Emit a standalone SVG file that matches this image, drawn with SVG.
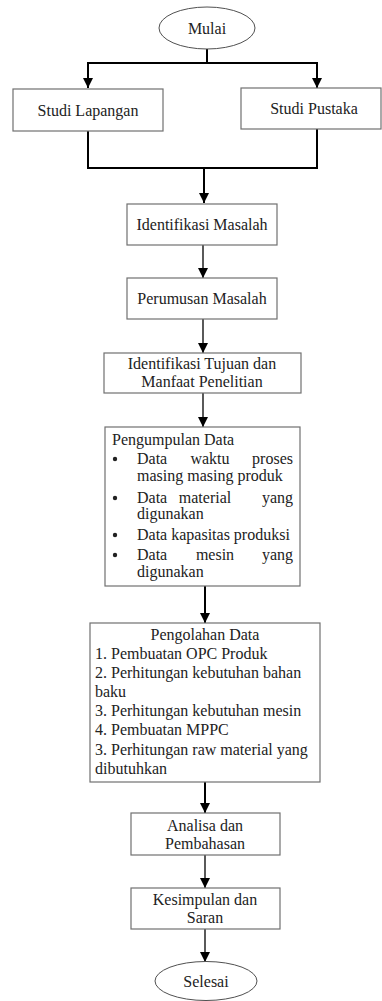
<svg xmlns="http://www.w3.org/2000/svg" width="382" height="1001" viewBox="0 0 382 1001">
  <style>
    .box { fill: #ffffff; stroke: #707070; stroke-width: 1.2; }
    .term { fill: #ffffff; stroke: #505050; stroke-width: 1; }
    .wire { fill: none; stroke: #000000; stroke-width: 2; }
    .thin { fill: none; stroke: #000000; stroke-width: 1.3; }
    text { font-family: "Liberation Serif", "Times New Roman", serif; font-size: 16px; fill: #222222; }
    .c { text-anchor: middle; }
    .e { text-anchor: end; }
  </style>
  <defs>
    <marker id="arrow" viewBox="0 0 10 10" refX="10" refY="5" markerWidth="10" markerHeight="10" markerUnits="userSpaceOnUse" orient="auto">
      <path d="M0,0 L10,5 L0,10 Z" fill="#000000"/>
    </marker>
  </defs>
  <rect width="382" height="1001" fill="#ffffff"/>

  <g id="connectors">
    <!-- split from start -->
    <path class="wire" d="M207,49 V63"/>
    <path class="wire" d="M88,63 H317"/>
    <path class="wire" d="M88,62 V88" marker-end="url(#arrow)"/>
    <path class="wire" d="M317,62 V88" marker-end="url(#arrow)"/>
    <!-- merge -->
    <path class="wire" d="M88,131 V168 H317 V129"/>
    <path class="wire" d="M204,168 V203" marker-end="url(#arrow)"/>
    <path class="thin" d="M203,245 V278" marker-end="url(#arrow)"/>
    <path class="thin" d="M203,319 V353" marker-end="url(#arrow)"/>
    <path class="thin" d="M203,393 V427" marker-end="url(#arrow)"/>
    <path class="wire" d="M205,586 V623" marker-end="url(#arrow)"/>
    <path class="wire" d="M205,782 V813" marker-end="url(#arrow)"/>
    <path class="thin" d="M205,855 V888" marker-end="url(#arrow)"/>
    <path class="thin" d="M205,929 V962" marker-end="url(#arrow)"/>
  </g>

  <g id="mulai">
    <ellipse class="term" cx="207" cy="28" rx="48" ry="21"/>
    <text class="c" x="207" y="34">Mulai</text>
  </g>

  <g id="studi-lapangan">
    <rect class="box" x="13" y="89" width="150" height="42"/>
    <text class="c" x="88" y="116">Studi Lapangan</text>
  </g>

  <g id="studi-pustaka">
    <rect class="box" x="241" y="88" width="140" height="41"/>
    <text class="c" x="314" y="114">Studi Pustaka</text>
  </g>

  <g id="identifikasi-masalah">
    <rect class="box" x="127" y="204" width="150" height="41"/>
    <text class="c" x="202" y="230">Identifikasi Masalah</text>
  </g>

  <g id="perumusan-masalah">
    <rect class="box" x="127" y="278" width="150" height="41"/>
    <text class="c" x="202" y="304">Perumusan Masalah</text>
  </g>

  <g id="tujuan-manfaat">
    <rect class="box" x="104" y="353" width="197" height="40"/>
    <text class="c" x="202" y="369">Identifikasi Tujuan dan</text>
    <text class="c" x="202" y="387">Manfaat Penelitian</text>
  </g>

  <g id="pengumpulan-data">
    <rect class="box" x="105" y="427" width="195" height="159"/>
    <text x="112" y="445">Pengumpulan Data</text>
    <circle cx="115" cy="459" r="2.2" fill="#222222"/>
    <text x="137" y="464">Data</text>
    <text class="c" x="210" y="464">waktu</text>
    <text class="e" x="293" y="464">proses</text>
    <text x="137" y="481">masing masing produk</text>
    <circle cx="115" cy="498" r="2.2" fill="#222222"/>
    <text x="137" y="503">Data</text>
    <text class="c" x="205" y="503">material</text>
    <text class="e" x="293" y="503">yang</text>
    <text x="137" y="519">digunakan</text>
    <circle cx="115" cy="535" r="2.2" fill="#222222"/>
    <text x="137" y="540">Data kapasitas produksi</text>
    <circle cx="115" cy="555" r="2.2" fill="#222222"/>
    <text x="137" y="560">Data</text>
    <text class="c" x="215" y="560">mesin</text>
    <text class="e" x="293" y="560">yang</text>
    <text x="137" y="577">digunakan</text>
  </g>

  <g id="pengolahan-data">
    <rect class="box" x="90" y="623" width="230" height="159"/>
    <text class="c" x="205" y="640">Pengolahan Data</text>
    <text x="95" y="659">1. Pembuatan OPC Produk</text>
    <text x="95" y="678">2. Perhitungan kebutuhan bahan</text>
    <text x="95" y="697">baku</text>
    <text x="95" y="716">3. Perhitungan kebutuhan mesin</text>
    <text x="95" y="735">4. Pembuatan MPPC</text>
    <text x="95" y="755">3. Perhitungan raw material yang</text>
    <text x="95" y="774">dibutuhkan</text>
  </g>

  <g id="analisa-pembahasan">
    <rect class="box" x="131" y="813" width="149" height="42"/>
    <text class="c" x="205" y="831">Analisa dan</text>
    <text class="c" x="205" y="849">Pembahasan</text>
  </g>

  <g id="kesimpulan-saran">
    <rect class="box" x="131" y="888" width="149" height="41"/>
    <text class="c" x="205" y="905">Kesimpulan dan</text>
    <text class="c" x="205" y="923">Saran</text>
  </g>

  <g id="selesai">
    <ellipse class="term" cx="206" cy="981" rx="51" ry="19.5"/>
    <text class="c" x="206" y="987">Selesai</text>
  </g>
</svg>
